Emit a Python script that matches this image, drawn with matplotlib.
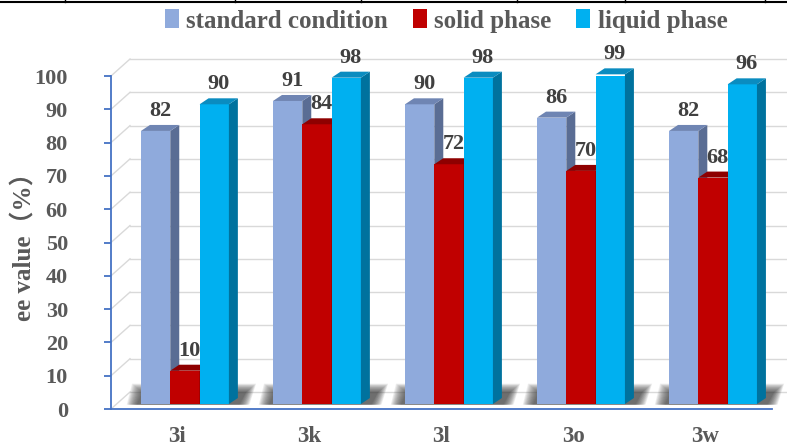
import matplotlib
matplotlib.use("Agg")
import matplotlib.pyplot as plt
from matplotlib.patches import Polygon, Patch
from matplotlib.lines import Line2D

categories = ["3i", "3k", "3l", "3o", "3w"]
series_names = ["standard condition", "solid phase", "liquid phase"]
standard = [82, 91, 90, 86, 82]
solid = [10, 84, 72, 70, 68]
liquid = [90, 98, 98, 99, 96]
yticks = [0, 10, 20, 30, 40, 50, 60, 70, 80, 90, 100]

# front / side / top colours for each series (excel 3d look)
front = ["#8FAADC", "#C00000", "#00B0F0"]
side = ["#5A6D94", "#7A0000", "#00729E"]
top = ["#6F85B3", "#8E0000", "#0A8CC0"]

txt = "#595959"
serif = "Liberation Serif"
axis_blue = "#4472C4"

fig = plt.figure(figsize=(7.87, 4.48), dpi=100)
ax = fig.add_axes([111 / 787, 39 / 448, 661 / 787, 333 / 448])
ax.set_xlim(-0.56, 4.447)
ax.set_ylim(0, 100)

w = 0.222      # bar width
dx, dy = 0.068, 1.8      # bar depth
bdx, bdy = 0.144, 5.1    # back wall offset
base = 1.5               # bars sit a little behind the front edge
x_end = 4.55

# back wall grid
for v in yticks:
    ax.plot([-0.56, -0.56 + bdx], [v, v + bdy], color="#D9D9D9", lw=1, clip_on=False, zorder=1)
    ax.plot([-0.56 + bdx, x_end], [v + bdy, v + bdy], color="#D9D9D9", lw=1, clip_on=False, zorder=1)

series = [standard, solid, liquid]
for i in range(len(categories)):
    gl = i - 1.5 * w
    gr = i + 1.5 * w
    # soft floor shadow, stacked layers to fake a blur
    for k in range(14):
        e = 0.006 * k
        ax.add_patch(Polygon([(gl - 0.03 - e, base - 0.2), (gr + dx + 0.01 + e, base - 0.2),
                              (gr + dx + 0.06 + e, base + 3.5 + 0.2 * k), (gl + 0.01 - e, base + 3.5 + 0.2 * k)],
                             closed=True, facecolor="#3A3A3A", alpha=0.085, lw=0, zorder=2,
                             clip_on=False, antialiased=True))
    for j, vals in enumerate(series):
        v = vals[i]
        x0 = i + (j - 1) * w - w / 2
        x1 = x0 + w
        ax.bar(x0, v, width=w, bottom=base, align="edge", color=front[j], zorder=3 + j)
        ax.add_patch(Polygon([(x1, base), (x1 + dx, base + dy), (x1 + dx, base + v + dy), (x1, base + v)],
                             closed=True, color=side[j], lw=0, zorder=3 + j, clip_on=False))
        ax.add_patch(Polygon([(x0, base + v), (x1, base + v), (x1 + dx, base + v + dy), (x0 + dx, base + v + dy)],
                             closed=True, color=top[j], lw=0, zorder=3 + j, clip_on=False))
        ax.text(x0 + w / 2 + dx / 2, base + v + dy + 1.2, str(v), ha="center", va="bottom",
                fontsize=16, fontweight="bold", family=serif, color="#404040", zorder=10)

for s in ["top", "right"]:
    ax.spines[s].set_visible(False)
for s in ["left", "bottom"]:
    ax.spines[s].set_color(axis_blue)
    ax.spines[s].set_linewidth(1.3)
ax.spines["bottom"].set_zorder(8)
ax.set_yticks(yticks)
ax.set_yticklabels([str(t) for t in yticks], fontsize=16, fontweight="bold", family=serif, color=txt)
ax.tick_params(axis="y", direction="out", length=5, width=1.3, color=axis_blue, pad=26)
ax.set_xticks([i - 0.06 for i in range(len(categories))])
ax.set_xticklabels(categories, fontsize=16.5, fontweight="bold", family=serif, color=txt)
ax.tick_params(axis="x", length=0, pad=12)

fig.text(25 / 787, 1 - 241 / 448, "ee value（%）", rotation=90, ha="center", va="center",
         fontsize=18, fontweight="bold", family=[serif, "Noto Sans CJK SC"], color=txt)

handles = [Patch(facecolor=c, edgecolor="none") for c in front]
fig.legend(handles, series_names, loc="center", bbox_to_anchor=(446 / 787, 1 - 21 / 448), ncol=3,
           frameon=False, handlelength=0.55, handleheight=0.8, handletextpad=0.3, columnspacing=1.0,
           prop={"family": serif, "weight": "bold", "size": 18}, labelcolor=txt)

# cut-off table rule at the very top of the picture
fig.add_artist(Line2D([0, 1], [1 - 2 / 448, 1 - 2 / 448], color="black", lw=1.5))
for px in [65, 235, 361, 517, 625, 765]:
    fig.add_artist(Line2D([px / 787, px / 787], [1 - 2 / 448, 1.0], color="black", lw=1))

fig.savefig("out.png", dpi=100)
